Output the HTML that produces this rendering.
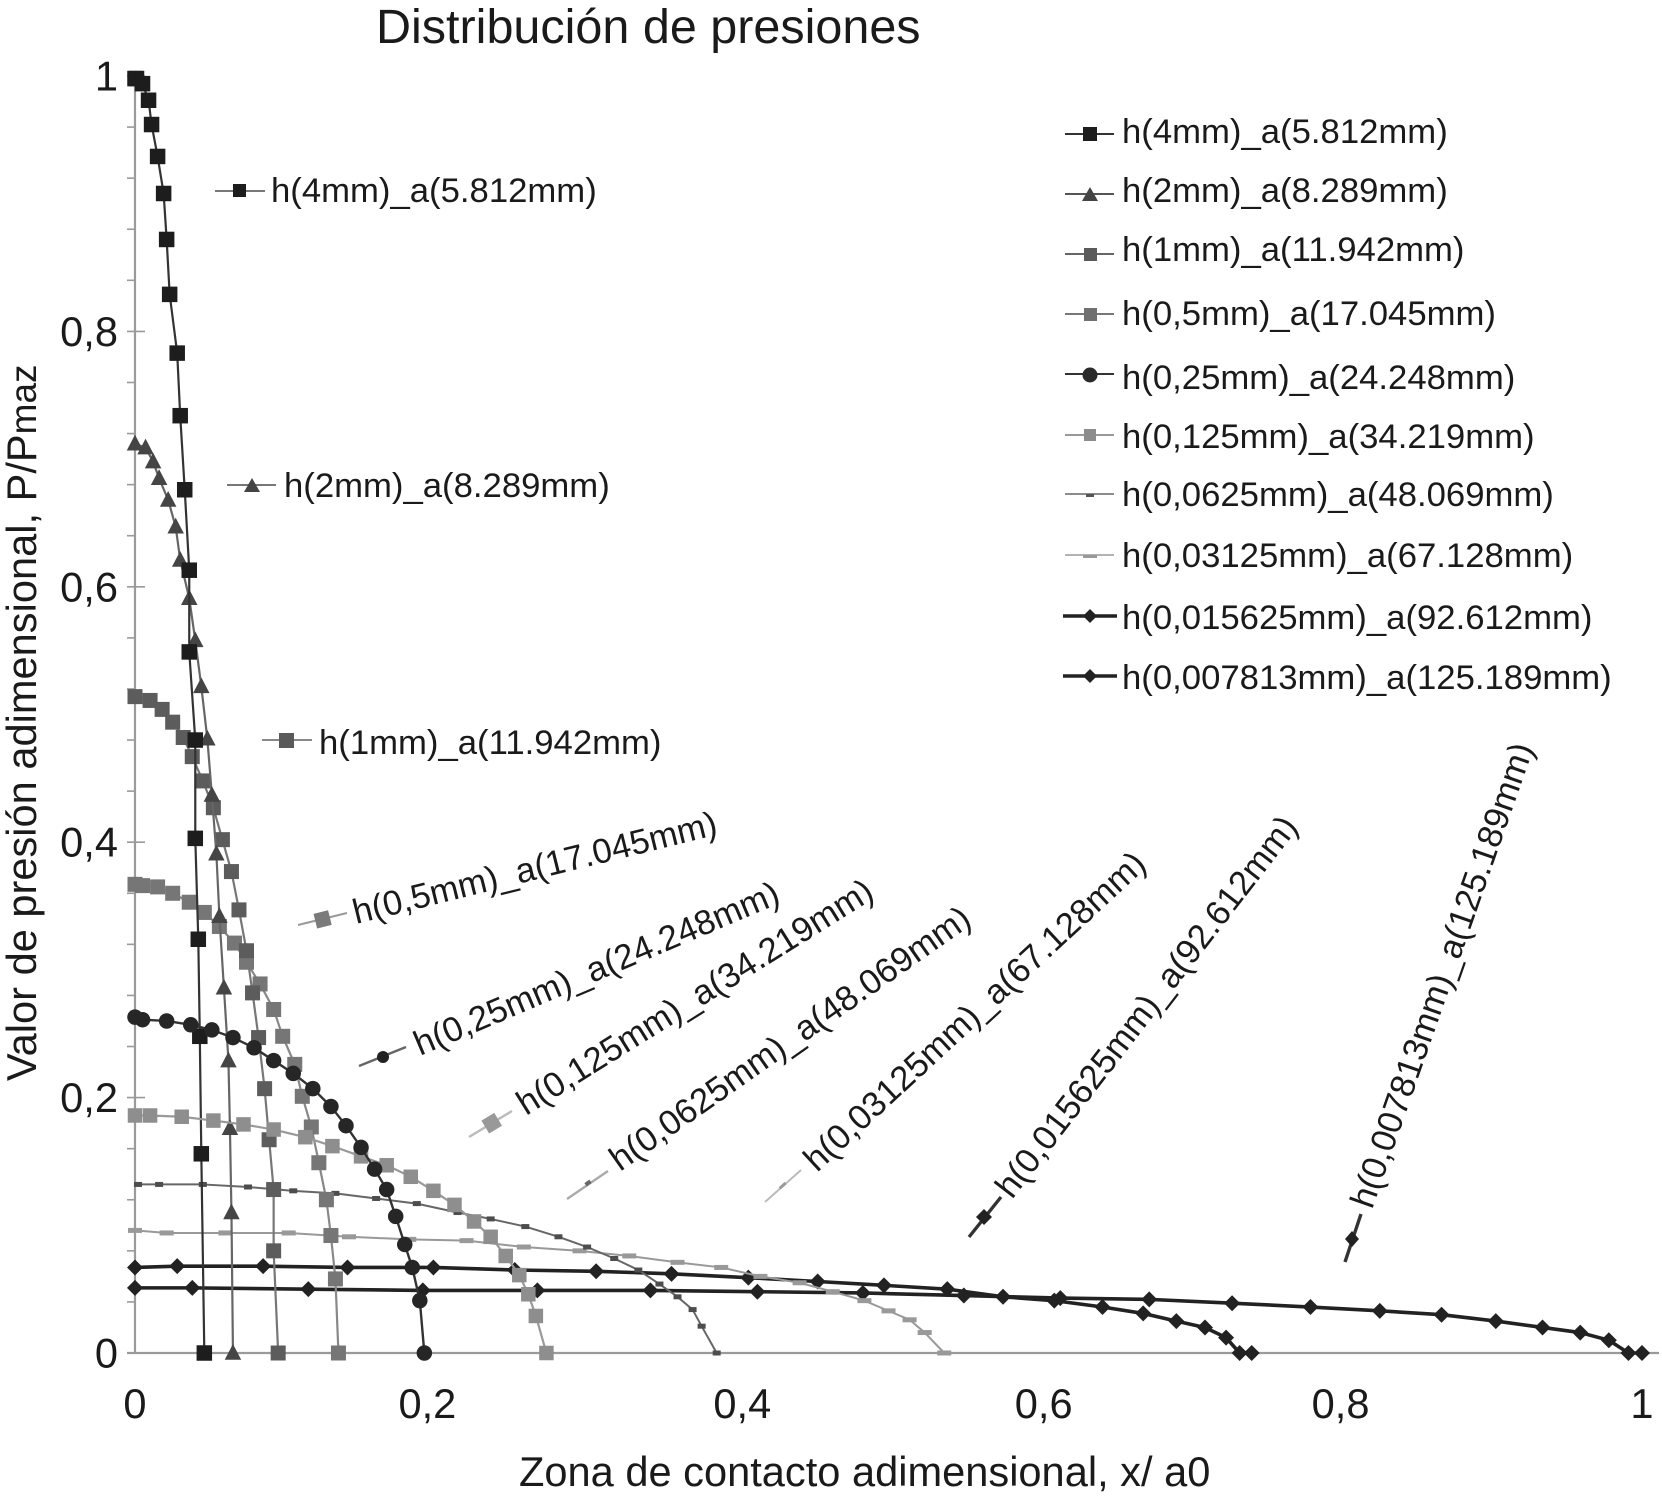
<!DOCTYPE html>
<html lang="es">
<head>
<meta charset="utf-8">
<title>Distribución de presiones</title>
<style>
html,body{margin:0;padding:0;background:#fff;}
svg{display:block;}
text{font-family:"Liberation Sans",Arial,sans-serif;fill:#1a1a1a;}
.lab{font-size:34.7px;}
.big{font-size:41.6px;}
</style>
</head>
<body>
<svg id="chart" xmlns="http://www.w3.org/2000/svg" width="1662" height="1506" viewBox="0 0 1662 1506">
  <rect x="0" y="0" width="1662" height="1506" fill="#ffffff"/>
  <text x="376" y="43" font-size="48.5">Distribución de presiones</text>
  <text class="big" x="519" y="1486">Zona de contacto adimensional, x/ a0</text>
  <text class="big" transform="translate(36 1081) rotate(-90)">Valor de presión adimensional, P/P<tspan font-size="37">maz</tspan></text>
  <g id="axes"></g>
  <g id="series"></g>

  <g>
    <g>
      <line x1="1065" y1="134" x2="1114" y2="134" stroke="#333" stroke-width="2"/><rect x="1083" y="127" width="14" height="14" fill="#1d1d1d"/>
      <text class="lab" x="1122" y="143">h(4mm)_a(5.812mm)</text>
    </g>
    <g>
      <line x1="1065" y1="194" x2="1114" y2="194" stroke="#555" stroke-width="2"/><polygon points="1090,187 1098,201 1082,201" fill="#444"/>
      <text class="lab" x="1122" y="202">h(2mm)_a(8.289mm)</text>
    </g>
    <g>
      <line x1="1065" y1="254" x2="1114" y2="254" stroke="#666" stroke-width="2"/><rect x="1084" y="248" width="13" height="13" fill="#5a5a5a"/>
      <text class="lab" x="1122" y="261">h(1mm)_a(11.942mm)</text>
    </g>
    <g>
      <line x1="1065" y1="314" x2="1114" y2="314" stroke="#777" stroke-width="2"/><rect x="1084" y="308" width="13" height="13" fill="#707070"/>
      <text class="lab" x="1122" y="325">h(0,5mm)_a(17.045mm)</text>
    </g>
    <g>
      <line x1="1065" y1="374" x2="1114" y2="374" stroke="#333" stroke-width="2"/><circle cx="1090" cy="375" r="7.5" fill="#2a2a2a"/>
      <text class="lab" x="1122" y="389">h(0,25mm)_a(24.248mm)</text>
    </g>
    <g>
      <line x1="1065" y1="435" x2="1114" y2="435" stroke="#999" stroke-width="2"/><rect x="1084" y="429" width="12" height="12" fill="#8c8c8c"/>
      <text class="lab" x="1122" y="448">h(0,125mm)_a(34.219mm)</text>
    </g>
    <g>
      <line x1="1065" y1="494" x2="1114" y2="494" stroke="#666" stroke-width="1.6"/><rect x="1086" y="494" width="8" height="3" fill="#555"/>
      <text class="lab" x="1122" y="506">h(0,0625mm)_a(48.069mm)</text>
    </g>
    <g>
      <line x1="1065" y1="555" x2="1114" y2="555" stroke="#999" stroke-width="1.6"/><rect x="1083" y="555" width="14" height="3" fill="#999"/>
      <text class="lab" x="1122" y="567">h(0,03125mm)_a(67.128mm)</text>
    </g>
    <g>
      <line x1="1063" y1="616" x2="1117" y2="616" stroke="#222" stroke-width="3.4"/><polygon points="1090,609 1097,616 1090,623 1083,616" fill="#222"/>
      <text class="lab" x="1122" y="629">h(0,015625mm)_a(92.612mm)</text>
    </g>
    <g>
      <line x1="1063" y1="676" x2="1117" y2="676" stroke="#222" stroke-width="3.4"/><polygon points="1090,669 1097,676 1090,683 1083,676" fill="#222"/>
      <text class="lab" x="1122" y="689">h(0,007813mm)_a(125.189mm)</text>
    </g>
  </g>

  <g>
    <g>
      <line x1="215" y1="191" x2="265" y2="191" stroke="#777" stroke-width="2"/><rect x="233" y="184" width="13" height="13" fill="#1d1d1d"/>
      <text class="lab" x="271" y="202">h(4mm)_a(5.812mm)</text>
    </g>
    <g>
      <line x1="227" y1="485" x2="276" y2="485" stroke="#777" stroke-width="2"/><polygon points="252,478 260,492 244,492" fill="#444"/>
      <text class="lab" x="284" y="497">h(2mm)_a(8.289mm)</text>
    </g>
    <g>
      <line x1="262" y1="740" x2="312" y2="740" stroke="#888" stroke-width="2"/><rect x="279" y="733" width="15" height="15" fill="#5a5a5a"/>
      <text class="lab" x="319" y="754">h(1mm)_a(11.942mm)</text>
    </g>
    <g>
      <line x1="298" y1="925" x2="347" y2="913" stroke="#999" stroke-width="2"/><rect x="315" y="912" width="15" height="15" fill="#7a7a7a" transform="rotate(-14 322 919)"/>
      <text class="lab" transform="translate(356 924) rotate(-13.9)">h(0,5mm)_a(17.045mm)</text>
    </g>
    <g>
      <line x1="359" y1="1066" x2="406" y2="1047" stroke="#666" stroke-width="2.4"/><circle cx="383" cy="1057" r="6" fill="#222"/>
      <text class="lab" transform="translate(420 1056) rotate(-23)">h(0,25mm)_a(24.248mm)</text>
    </g>
    <g>
      <line x1="469" y1="1137" x2="512" y2="1111" stroke="#bbb" stroke-width="2.4"/><rect x="484" y="1116" width="15" height="15" fill="#999" transform="rotate(-31 491 1123)"/>
      <text class="lab" transform="translate(526 1116) rotate(-32)">h(0,125mm)_a(34.219mm)</text>
    </g>
    <g>
      <line x1="567" y1="1199" x2="608" y2="1171" stroke="#aaa" stroke-width="2.4"/><rect x="585" y="1181" width="6" height="4" fill="#666" transform="rotate(-35 588 1183)"/>
      <text class="lab" transform="translate(620 1172) rotate(-35.1)">h(0,0625mm)_a(48.069mm)</text>
    </g>
    <g>
      <line x1="765" y1="1202" x2="801" y2="1170" stroke="#bbb" stroke-width="2"/><rect x="779" y="1184" width="8" height="3" fill="#999" transform="rotate(-42 783 1186)"/>
      <text class="lab" transform="translate(817 1173) rotate(-42.8)">h(0,03125mm)_a(67.128mm)</text>
    </g>
    <g>
      <line x1="969" y1="1237" x2="1001" y2="1197" stroke="#333" stroke-width="3.4"/><polygon points="984,1209 992,1217 984,1225 976,1217" fill="#222"/>
      <text class="lab" transform="translate(1012 1200) rotate(-52.4)">h(0,015625mm)_a(92.612mm)</text>
    </g>
    <g>
      <line x1="1345" y1="1262" x2="1361" y2="1214" stroke="#333" stroke-width="3.4"/><polygon points="1352,1231 1359,1239 1352,1247 1345,1239" fill="#222"/>
      <text class="lab" transform="translate(1372 1210) rotate(-70.7)">h(0,007813mm)_a(125.189mm)</text>
    </g>
  </g>
</svg>

<script>
// Tick labels and tick values
const xTickLabels = ["0", "0,2", "0,4", "0,6", "0,8", "1"];
const xTickValues = [0, 0.194, 0.403, 0.603, 0.8, 1];
const yTickLabels = ["0", "0,2", "0,4", "0,6", "0,8", "1"];
const yTickValues = [0, 0.2, 0.4, 0.6, 0.8, 1];
const yMinorTickValues = [0.04, 0.08, 0.12, 0.16, 0.24, 0.28, 0.32, 0.36, 0.44, 0.48, 0.52, 0.56, 0.64, 0.68, 0.72, 0.76, 0.84, 0.88, 0.92, 0.96];

// Series names
const seriesNames = ["h4mm", "h2mm", "h1mm", "h05mm", "h025mm", "h0125mm", "h00625mm", "h003125mm", "h0015625mm", "h0007813mm"];

// h(4mm)
const xH4 = [0, 0.001, 0.005, 0.009, 0.011, 0.015, 0.019, 0.021, 0.023, 0.028, 0.030, 0.033, 0.036, 0.036, 0.040, 0.040, 0.042, 0.043, 0.044, 0.046];
const yH4 = [0.998, 0.998, 0.994, 0.981, 0.962, 0.937, 0.908, 0.872, 0.829, 0.783, 0.734, 0.676, 0.613, 0.549, 0.480, 0.403, 0.324, 0.248, 0.156, 0];
// h(2mm)
const xH2 = [0, 0.007, 0.012, 0.016, 0.022, 0.027, 0.030, 0.036, 0.040, 0.044, 0.048, 0.051, 0.054, 0.056, 0.059, 0.062, 0.063, 0.064, 0.065];
const yH2 = [0.712, 0.709, 0.698, 0.685, 0.668, 0.647, 0.621, 0.591, 0.558, 0.522, 0.481, 0.437, 0.391, 0.342, 0.286, 0.229, 0.176, 0.110, 0];
// h(1mm)
const xH1 = [0, 0.010, 0.018, 0.025, 0.032, 0.038, 0.045, 0.052, 0.058, 0.064, 0.069, 0.074, 0.078, 0.082, 0.086, 0.089, 0.092, 0.092, 0.095];
const yH1 = [0.514, 0.511, 0.504, 0.494, 0.482, 0.467, 0.448, 0.427, 0.402, 0.377, 0.347, 0.315, 0.282, 0.247, 0.207, 0.167, 0.128, 0.080, 0];
// h(0,5mm)
const xH05 = [0, 0.005, 0.015, 0.025, 0.036, 0.046, 0.056, 0.066, 0.074, 0.083, 0.092, 0.098, 0.106, 0.111, 0.117, 0.122, 0.127, 0.130, 0.133, 0.135];
const yH05 = [0.367, 0.366, 0.365, 0.360, 0.353, 0.345, 0.334, 0.321, 0.306, 0.289, 0.269, 0.248, 0.226, 0.201, 0.177, 0.149, 0.120, 0.092, 0.058, 0];
// h(0,25mm)
const xH025 = [0, 0.005, 0.021, 0.037, 0.051, 0.065, 0.079, 0.092, 0.105, 0.118, 0.130, 0.140, 0.150, 0.159, 0.167, 0.173, 0.179, 0.184, 0.189, 0.192];
const yH025 = [0.263, 0.261, 0.260, 0.257, 0.253, 0.247, 0.239, 0.229, 0.219, 0.207, 0.193, 0.178, 0.161, 0.144, 0.128, 0.107, 0.085, 0.067, 0.041, 0];
// h(0,125mm)
const xH0125 = [0, 0.010, 0.031, 0.052, 0.072, 0.092, 0.113, 0.131, 0.150, 0.167, 0.183, 0.198, 0.212, 0.225, 0.236, 0.246, 0.255, 0.261, 0.266, 0.273];
const yH0125 = [0.186, 0.186, 0.185, 0.182, 0.179, 0.175, 0.169, 0.162, 0.154, 0.147, 0.138, 0.127, 0.116, 0.103, 0.091, 0.076, 0.061, 0.046, 0.029, 0];
// h(0,0625mm)
const xH00625 = [0.002, 0.016, 0.045, 0.075, 0.105, 0.133, 0.160, 0.187, 0.214, 0.236, 0.259, 0.281, 0.300, 0.318, 0.334, 0.348, 0.360, 0.370, 0.376, 0.386];
const yH00625 = [0.132, 0.132, 0.132, 0.130, 0.127, 0.125, 0.121, 0.117, 0.110, 0.105, 0.099, 0.091, 0.083, 0.074, 0.065, 0.054, 0.044, 0.034, 0.021, 0];
// h(0,03125mm)
const xH003125 = [0, 0.021, 0.060, 0.102, 0.142, 0.182, 0.220, 0.258, 0.295, 0.328, 0.360, 0.389, 0.415, 0.441, 0.463, 0.484, 0.500, 0.514, 0.524, 0.537];
const yH003125 = [0.096, 0.094, 0.094, 0.094, 0.091, 0.089, 0.088, 0.083, 0.080, 0.076, 0.071, 0.067, 0.060, 0.055, 0.048, 0.041, 0.033, 0.026, 0.016, 0];
// h(0,015625mm)
const xH0015625 = [0, 0.028, 0.085, 0.141, 0.198, 0.252, 0.306, 0.356, 0.407, 0.453, 0.497, 0.539, 0.576, 0.610, 0.642, 0.669, 0.691, 0.710, 0.724, 0.733, 0.741];
const yH0015625 = [0.067, 0.068, 0.068, 0.067, 0.067, 0.065, 0.064, 0.062, 0.059, 0.056, 0.053, 0.050, 0.044, 0.041, 0.036, 0.031, 0.025, 0.020, 0.012, 0, 0];
// h(0,007813mm)
const xH0007813 = [0, 0.038, 0.115, 0.191, 0.267, 0.342, 0.413, 0.483, 0.550, 0.614, 0.673, 0.728, 0.780, 0.826, 0.867, 0.903, 0.934, 0.959, 0.978, 0.991, 1];
const yH0007813 = [0.051, 0.051, 0.050, 0.049, 0.049, 0.049, 0.048, 0.047, 0.045, 0.043, 0.042, 0.039, 0.036, 0.033, 0.030, 0.025, 0.020, 0.016, 0.010, 0, 0];

const NS = "http://www.w3.org/2000/svg";
const axesG = document.getElementById("axes");
const seriesG = document.getElementById("series");

function xScale(v) { return 135 + v * 1507; }
function yScale(v) { return 1353 - v * 1277; }

function make(tag, attrs, parent) {
  const el = document.createElementNS(NS, tag);
  for (const k in attrs) el.setAttribute(k, attrs[k]);
  parent.appendChild(el);
  return el;
}

const axisColor = "#9a9a9a";

// axis lines
const yAxisLine = make("line", {x1: xScale(0), y1: yScale(1), x2: xScale(0), y2: yScale(0), stroke: axisColor, "stroke-width": 2.2}, axesG);


const xAxisLine = make("line", {x1: xScale(0) - 8, y1: yScale(0), x2: xScale(1) + 17, y2: yScale(0), stroke: axisColor, "stroke-width": 2.2}, axesG);



// y ticks
yMinorTickValues.forEach(function (v) {
  const t = make("line", {x1: xScale(0) - 8, y1: yScale(v), x2: xScale(0), y2: yScale(v), stroke: axisColor, "stroke-width": 1.6}, axesG);
  
  
});
yTickValues.forEach(function (v, i) {
  const t = make("line", {x1: xScale(0) - 8, y1: yScale(v), x2: xScale(0) + 10, y2: yScale(v), stroke: axisColor, "stroke-width": 1.6}, axesG);
  
  
  const lab = make("text", {x: 118, y: yScale(v) + 14.5, "text-anchor": "end", "font-size": 41.6}, axesG);
  lab.textContent = yTickLabels[i];
  
  
});
// x tick labels
xTickValues.forEach(function (v, i) {
  const lab = make("text", {x: xScale(v), y: 1418, "text-anchor": "middle", "font-size": 41.6}, axesG);
  lab.textContent = xTickLabels[i];
  
  
});

function drawMarker(g, kind, size, color, cx, cy) {
  let m;
  if (kind === "square") {
    m = make("rect", {x: cx - size / 2, y: cy - size / 2, width: size, height: size, fill: color}, g);
  } else if (kind === "triangle") {
    m = make("polygon", {points: cx + "," + (cy - size * 0.6) + " " + (cx + size * 0.55) + "," + (cy + size * 0.45) + " " + (cx - size * 0.55) + "," + (cy + size * 0.45), fill: color}, g);
  } else if (kind === "circle") {
    m = make("circle", {cx: cx, cy: cy, r: size / 2, fill: color}, g);
  } else if (kind === "diamond") {
    m = make("polygon", {points: cx + "," + (cy - size / 2) + " " + (cx + size / 2) + "," + cy + " " + cx + "," + (cy + size / 2) + " " + (cx - size / 2) + "," + cy, fill: color}, g);
  } else if (kind === "dash") {
    m = make("rect", {x: cx - size / 2, y: cy - 2.5, width: size, height: 5, fill: color}, g);
  }
  
  
}

function drawSeries(name, xs, ys, kind, size, lineColor, markerColor, lineWidth) {
  const g = make("g", {}, seriesG);
  
  
  const pts = xs.map(function (x, i) { return xScale(x) + "," + yScale(ys[i]); }).join(" ");
  const line = make("polyline", {points: pts, fill: "none", stroke: lineColor, "stroke-width": lineWidth, "stroke-linejoin": "round"}, g);
  
  
  xs.forEach(function (x, i) {
    drawMarker(g, kind, size, markerColor, xScale(x), yScale(ys[i]));
  });
}

drawSeries(seriesNames[9], xH0007813, yH0007813, "diamond", 16, "#222", "#222", 3.6);
drawSeries(seriesNames[8], xH0015625, yH0015625, "diamond", 16, "#222", "#222", 3.6);
drawSeries(seriesNames[7], xH003125, yH003125, "dash", 14, "#999", "#999", 2);
drawSeries(seriesNames[6], xH00625, yH00625, "dash", 8, "#666", "#4d4d4d", 2);
drawSeries(seriesNames[3], xH05, yH05, "square", 15, "#888", "#767676", 2.2);
drawSeries(seriesNames[2], xH1, yH1, "square", 15, "#777", "#5c5c5c", 2.2);
drawSeries(seriesNames[1], xH2, yH2, "triangle", 15, "#666", "#454545", 2.2);
drawSeries(seriesNames[0], xH4, yH4, "square", 15.5, "#333", "#1d1d1d", 2.2);
drawSeries(seriesNames[5], xH0125, yH0125, "square", 14.5, "#999", "#8e8e8e", 2.2);
drawSeries(seriesNames[4], xH025, yH025, "circle", 15.5, "#333", "#262626", 2.4);
</script>
</body>
</html>
